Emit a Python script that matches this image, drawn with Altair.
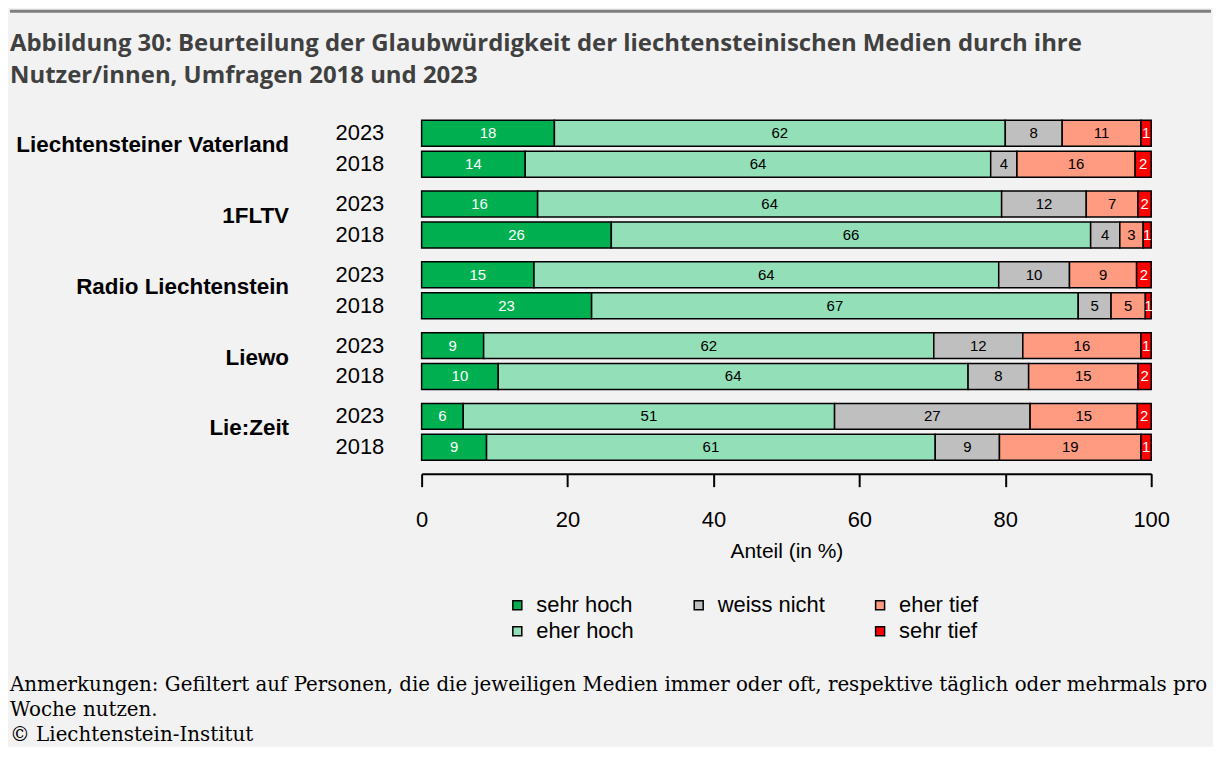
import altair as alt
import pandas as pd

# ---------------- data ----------------
media = ["Liechtensteiner Vaterland", "1FLTV", "Radio Liechtenstein", "Liewo", "Lie:Zeit"]
years = ["2023", "2018"]
categories = ["sehr hoch", "eher hoch", "weiss nicht", "eher tief", "sehr tief"]
colors = ["#00b050", "#93dfb8", "#bfbfbf", "#ff9b80", "#ff0000"]

# rows: V2023, V2018, F2023, F2018, R2023, R2018, L2023, L2018, Z2023, Z2018
share_sehr_hoch = [18.2, 14.2, 15.9, 26.0, 15.4, 23.3, 8.5, 10.5, 5.7, 8.9]
share_eher_hoch = [61.8, 63.8, 63.6, 65.7, 63.7, 66.7, 61.7, 64.4, 50.9, 61.5]
share_weiss_nicht = [7.8, 3.6, 11.6, 4.0, 9.7, 4.5, 12.2, 8.3, 26.8, 8.8]
share_eher_tief = [10.8, 16.2, 7.1, 3.2, 9.2, 4.7, 16.2, 15.0, 14.7, 19.4]
share_sehr_tief = [1.4, 2.2, 1.8, 1.1, 2.0, 0.8, 1.4, 1.8, 1.9, 1.4]

label_sehr_hoch = [18, 14, 16, 26, 15, 23, 9, 10, 6, 9]
label_eher_hoch = [62, 64, 64, 66, 64, 67, 62, 64, 51, 61]
label_weiss_nicht = [8, 4, 12, 4, 10, 5, 12, 8, 27, 9]
label_eher_tief = [11, 16, 7, 3, 9, 5, 16, 15, 15, 19]
label_sehr_tief = [1, 2, 2, 1, 2, 1, 1, 2, 2, 1]

x_ticks = [0, 20, 40, 60, 80, 100]

title_lines = [
    "Abbildung 30: Beurteilung der Glaubwürdigkeit der liechtensteinischen Medien durch ihre",
    "Nutzer/innen, Umfragen 2018 und 2023",
]
footer_lines = [
    "Anmerkungen: Gefiltert auf Personen, die die jeweiligen Medien immer oder oft, respektive täglich oder mehrmals pro",
    "Woche nutzen.",
    "© Liechtenstein-Institut",
]

shares = [share_sehr_hoch, share_eher_hoch, share_weiss_nicht, share_eher_tief, share_sehr_tief]
labels = [label_sehr_hoch, label_eher_hoch, label_weiss_nicht, label_eher_tief, label_sehr_tief]

rows = []
for i, m in enumerate(media):
    for j, y in enumerate(years):
        k = i * 2 + j
        for c, cat in enumerate(categories):
            rows.append(dict(media=m, year=y, cat=cat, ord=c,
                             share=shares[c][k], label=str(labels[c][k])))
df = pd.DataFrame(rows)

# legend is filled column by column (2 rows x 3 columns) with one empty slot
legend_domain = ["sehr hoch", "eher hoch", "weiss nicht", " ", "eher tief", "sehr tief"]
legend_fill = [colors[0], colors[1], colors[2], "transparent", colors[3], colors[4]]
legend_stroke = ["black", "black", "black", "transparent", "black", "black"]

FONT = "Liberation Sans"
x_scale = alt.Scale(domain=[0, 100], nice=False)
y_scale = alt.Scale(paddingInner=0.16, paddingOuter=0.08)


def make_legend():
    return alt.Legend(title=None, orient="none", legendX=85, legendY=478,
                      columns=3, symbolType="square", symbolSize=81,
                      symbolStrokeWidth=1.5,
                      labelFontSize=22, labelFont=FONT, labelColor="black",
                      labelOffset=8, columnPadding=44, rowPadding=4,
                      gridAlign="all", padding=0)


stacked = alt.Chart().transform_stack(
    stack="share", as_=["x0", "x1"], groupby=["media", "year"],
    sort=[alt.SortField("ord", order="ascending")]
)

bars = stacked.mark_bar(strokeWidth=1.5).encode(
    x=alt.X("x0:Q", scale=x_scale,
            axis=alt.Axis(values=x_ticks, title="Anteil (in %)", grid=False, offset=11,
                          domainColor="black", domainWidth=2, tickColor="black", tickWidth=2,
                          tickSize=13, labelFontSize=22, labelPadding=23, labelColor="black",
                          labelFont=FONT, titleFont=FONT, titleFontSize=21, titleFontWeight="normal",
                          titleColor="black", titlePadding=10, labelFlush=False)),
    x2="x1:Q",
    y=alt.Y("year:N", sort=years, scale=y_scale,
            axis=alt.Axis(title=None, ticks=False, domain=False, labelFontSize=22,
                          labelFont=FONT, labelColor="black", labelPadding=38)),
    color=alt.Color("cat:N", scale=alt.Scale(domain=legend_domain, range=legend_fill),
                    legend=make_legend()),
    stroke=alt.Stroke("cat:N", scale=alt.Scale(domain=legend_domain, range=legend_stroke),
                      legend=make_legend()),
)

texts = stacked.transform_calculate(mid="(datum.x0 + datum.x1) / 2").mark_text(
    fontSize=15, font=FONT
).encode(
    x=alt.X("mid:Q", scale=x_scale),
    y=alt.Y("year:N", sort=years, scale=y_scale),
    text="label:N",
    color=alt.condition("datum.cat == 'sehr hoch' || datum.cat == 'sehr tief'",
                        alt.value("white"), alt.value("black")),
)

media_labels = alt.Chart().transform_aggregate(n="count()", groupby=["media"]).mark_text(
    align="right", baseline="middle", font=FONT, fontSize=22.5, fontWeight="bold", color="black"
).encode(x=alt.value(-133), y=alt.value(27.5), text="media:N")

first_only = alt.Chart().transform_filter(alt.datum.media == media[0]).transform_aggregate(
    n="count()", groupby=["media"])
last_only = alt.Chart().transform_filter(alt.datum.media == media[-1]).transform_aggregate(
    n="count()", groupby=["media"])

top_rule = first_only.mark_rule(color="#7f7f7f", strokeWidth=3).encode(
    x=alt.value(-413), x2=alt.value(792), y=alt.value(-107))

title_text = first_only.mark_text(
    align="left", baseline="middle", font="Open Sans", fontWeight="bold", fontSize=24,
    color="#404040", lineHeight=33
).encode(x=alt.value(-413), y=alt.value(-74.5), text=alt.value(title_lines))

footer_text = last_only.mark_text(
    align="left", baseline="middle", font="DejaVu Serif", fontSize=19.9, color="black",
    lineHeight=25
).encode(x=alt.value(-413), y=alt.value(285.5), text=alt.value(footer_lines))

cell = alt.layer(bars, texts, media_labels, top_rule, title_text, footer_text, data=df).properties(
    width=732, height=62)

chart = cell.facet(
    row=alt.Row("media:N", sort=media, header=alt.Header(title=None, labels=False)),
    spacing=9, bounds="flush",
).properties(background="#f2f2f2", padding=0).configure_view(stroke=None)

chart.save("out.html", embed_options={"renderer": "svg", "actions": False})
